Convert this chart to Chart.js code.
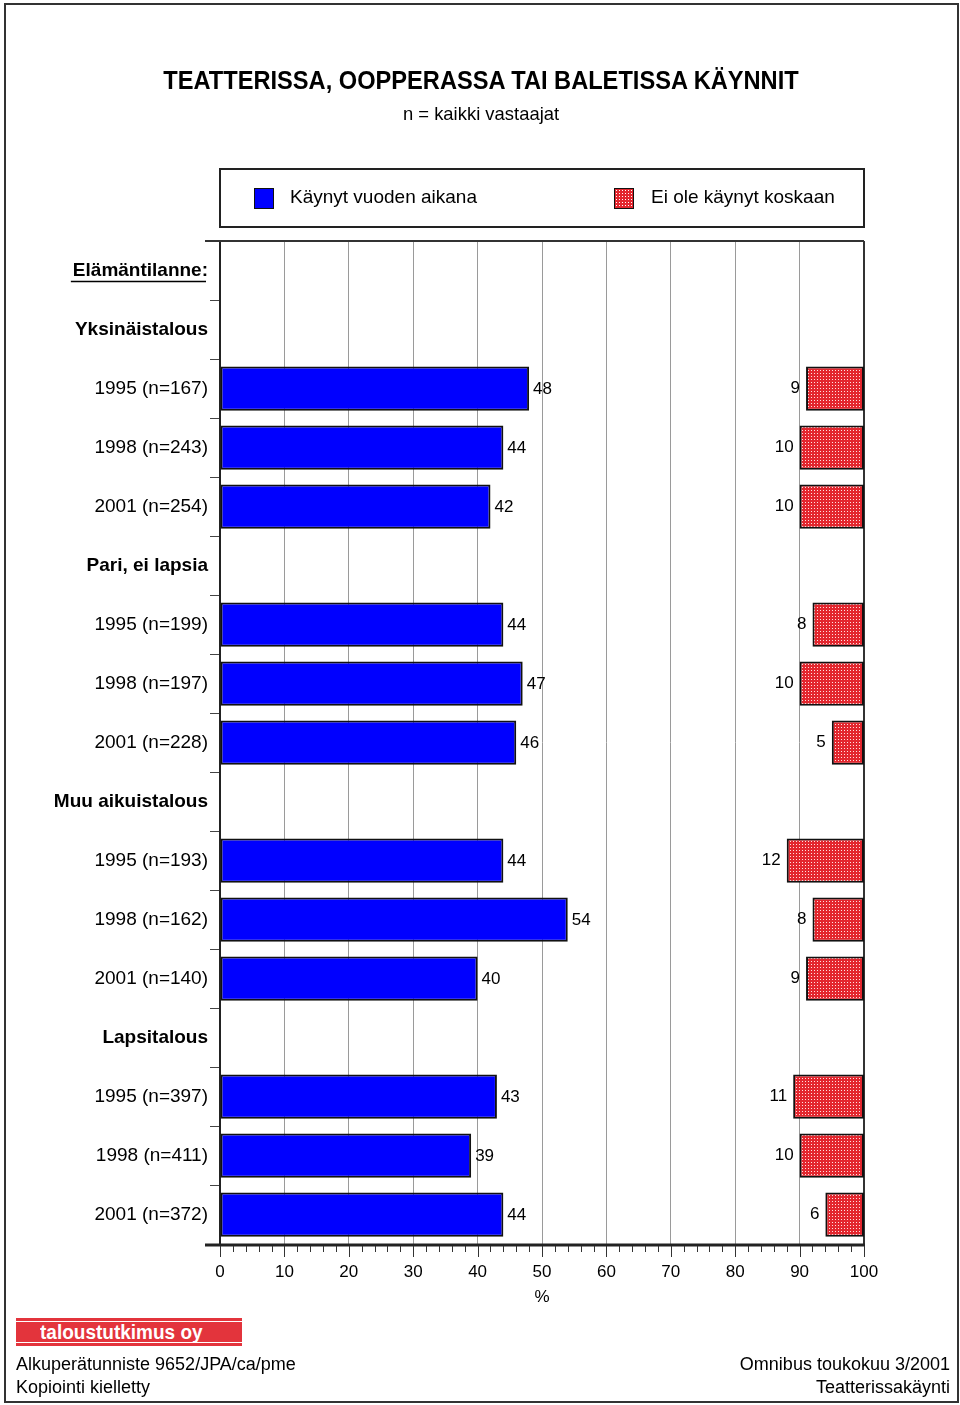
<!DOCTYPE html>
<html>
<head>
<meta charset="utf-8">
<script src="https://cdn.jsdelivr.net/npm/chart.js@4.4.1/dist/chart.umd.min.js"></script>
<style>
  html, body { margin: 0; padding: 0; background: #fff; }
  body { width: 960px; height: 1405px; position: relative; overflow: hidden; font-family: "Liberation Sans", Arial, sans-serif; }
  #frame { position: absolute; left: 4px; top: 3px; width: 951px; height: 1396px; border: 2px solid #333; }
  #c { position: absolute; left: 0; top: 0; }
  .t { position: absolute; white-space: nowrap; color: #000; }
  #title { left: 0; width: 962px; text-align: center; top: 66px; font-weight: bold; font-size: 25px; transform: scaleX(0.945); transform-origin: 481px 0; }
  #sub { left: 0; width: 962px; text-align: center; top: 103px; font-size: 19px; transform: scaleX(0.97); transform-origin: 481px 0; }
  #legend { position: absolute; left: 219px; top: 168px; width: 642px; height: 56px; border: 2px solid #222; }
  .sw { position: absolute; top: 18px; width: 18px; height: 19px; border: 1px solid #111; }
  #sw1 { left: 33px; background: #0000ff; }
  #sw2 { left: 393px; background-color: #e3262e; background-image: radial-gradient(#fff 0.7px, transparent 0.8px); background-size: 3px 3px; }
  .lt { position: absolute; top: 16px; font-size: 19px; }
  #logo { position: absolute; left: 16px; top: 1318px; width: 226px; height: 28px; background: #e3343c; }
  #logo .ln { position: absolute; left: 0; width: 226px; height: 1px; background: #fff; }
  #logo span { position: absolute; left: 24px; top: 3px; color: #fff; font-weight: bold; font-size: 20px; transform: scaleX(0.95); transform-origin: 0 0; }
  .ft { position: absolute; font-size: 18px; }
</style>
</head>
<body>
<div id="frame"></div>
<canvas id="c" width="960" height="1405"></canvas>
<div class="t" id="title">TEATTERISSA, OOPPERASSA TAI BALETISSA KÄYNNIT</div>
<div class="t" id="sub">n = kaikki vastaajat</div>
<div id="legend">
  <div class="sw" id="sw1"></div><div class="lt" style="left:69px">Käynyt vuoden aikana</div>
  <div class="sw" id="sw2"></div><div class="lt" style="left:430px">Ei ole käynyt koskaan</div>
</div>
<div id="logo"><div class="ln" style="top:3px"></div><div class="ln" style="top:24px"></div><span>taloustutkimus oy</span></div>
<div class="ft t" style="left:16px; top:1354px;">Alkuperätunniste 9652/JPA/ca/pme</div>
<div class="ft t" style="left:16px; top:1377px;">Kopiointi kielletty</div>
<div class="ft t" style="right:10px; top:1354px;">Omnibus toukokuu 3/2001</div>
<div class="ft t" style="right:10px; top:1377px;">Teatterissakäynti</div>
<script>
// ---- data ----
const categories = ['Elämäntilanne:', 'Yksinäistalous', '1995 (n=167)', '1998 (n=243)', '2001 (n=254)',
  'Pari, ei lapsia', '1995 (n=199)', '1998 (n=197)', '2001 (n=228)',
  'Muu aikuistalous', '1995 (n=193)', '1998 (n=162)', '2001 (n=140)',
  'Lapsitalous', '1995 (n=397)', '1998 (n=411)', '2001 (n=372)'];
const headerRows = ['Elämäntilanne:', 'Yksinäistalous', 'Pari, ei lapsia', 'Muu aikuistalous', 'Lapsitalous'];
const visited = [null, null, 48, 44, 42, null, 44, 47, 46, null, 44, 54, 40, null, 43, 39, 44];
const never   = [null, null, 9, 10, 10, null, 8, 10, 5, null, 12, 8, 9, null, 11, 10, 6];
const seriesNames = ['Käynyt vuoden aikana', 'Ei ole käynyt koskaan'];

// pattern for the "never" series
function makePattern() {
  const p = document.createElement('canvas');
  p.width = 3; p.height = 3;
  const g = p.getContext('2d');
  g.fillStyle = '#e3262e'; g.fillRect(0, 0, 3, 3);
  g.fillStyle = '#ffe0e0'; g.fillRect(1, 1, 1, 1);
  return g.createPattern(p, 'repeat');
}
const ctx = document.getElementById('c').getContext('2d');
const redPattern = makePattern();

const FONT = '"Liberation Sans", Arial, sans-serif';

const decor = {
  id: 'decor',
  beforeDatasetsDraw(chart) {
    const { ctx, chartArea: a } = chart;
    ctx.save();
    ctx.strokeStyle = '#333'; ctx.lineWidth = 2;
    ctx.beginPath();
    ctx.moveTo(205, a.top); ctx.lineTo(a.right, a.top);
    ctx.moveTo(a.right, a.top); ctx.lineTo(a.right, a.bottom);
    ctx.stroke();
    ctx.restore();
  },
  afterDatasetsDraw(chart) {
    const { ctx, chartArea: a, scales } = chart;
    const x = scales.x, y = scales.y;
    ctx.save();
    // bottom axis line
    ctx.strokeStyle = '#222'; ctx.lineWidth = 3;
    ctx.beginPath(); ctx.moveTo(205, a.bottom + 1); ctx.lineTo(a.right + 1, a.bottom + 1); ctx.stroke();
    // ticks
    ctx.lineWidth = 1; ctx.strokeStyle = '#333';
    for (let v = 0; v <= 100; v += 2) {
      const px = Math.round(x.getPixelForValue(v)) + 0.5;
      const len = (v % 10 === 0) ? 11 : 6;
      ctx.beginPath(); ctx.moveTo(px, a.bottom + 2); ctx.lineTo(px, a.bottom + 2 + len); ctx.stroke();
    }
    // value labels
    ctx.font = '17px ' + FONT;
    ctx.fillStyle = '#000';
    ctx.textBaseline = 'middle';
    visited.forEach((v, i) => {
      if (v == null) return;
      ctx.textAlign = 'left';
      ctx.fillText(String(v), x.getPixelForValue(v) + 4, y.getPixelForValue(i) + 1);
    });
    never.forEach((v, i) => {
      if (v == null) return;
      ctx.textAlign = 'right';
      ctx.fillText(String(v), x.getPixelForValue(100 - v) - 6, y.getPixelForValue(i));
    });
    // underline for the first header
    ctx.font = 'bold 19px ' + FONT;
    const w = ctx.measureText(categories[0]).width;
    const yy = y.getPixelForValue(0) + 11;
    ctx.strokeStyle = '#000'; ctx.lineWidth = 1.5;
    ctx.beginPath(); ctx.moveTo(206 - w, yy); ctx.lineTo(206, yy); ctx.stroke();
    ctx.restore();
  }
};

new Chart(ctx, {
  type: 'bar',
  data: {
    labels: categories,
    datasets: [
      {
        label: seriesNames[0],
        data: visited,
        backgroundColor: '#0000ff',
        borderColor: '#111',
        borderWidth: 2,
        borderSkipped: false
      },
      {
        label: seriesNames[1],
        data: never.map(v => v == null ? null : [100 - v, 100]),
        backgroundColor: redPattern,
        borderColor: '#111',
        borderWidth: 2,
        borderSkipped: false
      }
    ]
  },
  options: {
    indexAxis: 'y',
    responsive: false,
    animation: false,
    devicePixelRatio: 1,
    layout: { padding: { top: 241, right: 96, left: 0, bottom: 97 } },
    datasets: { bar: { grouped: false, barPercentage: 0.75, categoryPercentage: 1 } },
    plugins: { legend: { display: false }, tooltip: { enabled: false } },
    scales: {
      x: {
        min: 0, max: 100,
        ticks: {
          stepSize: 10, color: '#000', padding: 6,
          font: { family: FONT, size: 17 }
        },
        grid: { color: '#9a9a9a', lineWidth: 1, drawTicks: true, tickLength: 12, tickColor: 'rgba(0,0,0,0)' },
        border: { display: false },
        title: { display: true, text: '%', color: '#000', font: { family: FONT, size: 17 }, padding: { top: 2, bottom: 0 } },
        afterFit(scale) { scale.height = 64; }
      },
      y: {
        ticks: {
          color: '#000', padding: 2, autoSkip: false,
          font: (c) => ({ family: FONT, size: 19, weight: headerRows.includes(categories[c.index]) ? 'bold' : 'normal' })
        },
        grid: { display: true, drawOnChartArea: false, drawTicks: true, tickLength: 10, color: '#444', offset: true },
        border: { display: true, color: '#222', width: 2 },
        afterFit(scale) { scale.width = 220; }
      }
    }
  },
  plugins: [decor]
});
</script>
</body>
</html>
